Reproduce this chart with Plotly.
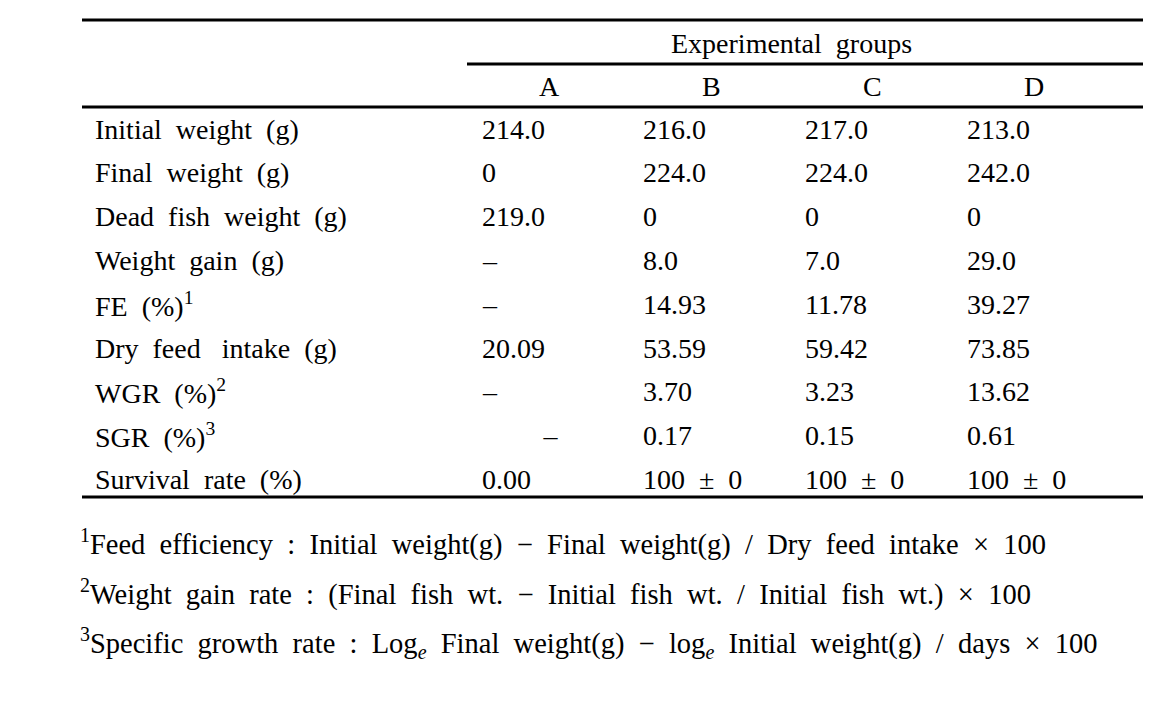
import plotly.graph_objects as go

# ---- data ----
group_title = "Experimental  groups"
groups = ["A", "B", "C", "D"]
row_labels = [
    "Initial  weight  (g)",
    "Final  weight  (g)",
    "Dead  fish  weight  (g)",
    "Weight  gain  (g)",
    "FE  (%)<sup>1</sup>",
    "Dry  feed   intake  (g)",
    "WGR  (%)<sup>2</sup>",
    "SGR  (%)<sup>3</sup>",
    "Survival  rate  (%)",
]
col_A = ["214.0", "0", "219.0", "–", "–", "20.09", "–", "\u2003\u2003\u2009–", "0.00"]
col_B = ["216.0", "224.0", "0", "8.0", "14.93", "53.59", "3.70", "0.17", "100  ±  0"]
col_C = ["217.0", "224.0", "0", "7.0", "11.78", "59.42", "3.23", "0.15", "100  ±  0"]
col_D = ["213.0", "242.0", "0", "29.0", "39.27", "73.85", "13.62", "0.61", "100  ±  0"]
footnotes = [
    "<sup>1</sup>Feed  efficiency  :  Initial  weight(g)  −  Final  weight(g)  /  Dry  feed  intake  ×  100",
    "<sup>2</sup>Weight  gain  rate  :  (Final  fish  wt.  −  Initial  fish  wt.  /  Initial  fish  wt.)  ×  100",
    "<sup>3</sup>Specific  growth  rate  :  Log<sub><i>e</i></sub>  Final  weight(g)  −  log<sub><i>e</i></sub>  Initial  weight(g)  /  days  ×  100",
]

# ---- layout constants (pixel geometry) ----
W, H = 1152, 709
OFF = 8  # page body margin offset
FONT = "Liberation Serif"
FS = 28
FS_FOOT = 28.5
label_x = 93
col_left = [480, 641, 803, 965]
col_center = [549, 711, 872, 1034]
row_y0, row_dy = 129, 43.8
table_left, table_right = 82, 1143
group_line_left = 467
y_top, y_group, y_head, y_bottom = 20, 64, 107, 497
foot_x, foot_y = 78, [542, 592, 643]

fig = go.Figure()
ann = []

def txt(x, y, s, anchor="left", size=FS):
    ann.append(dict(x=x, y=y, xref="x", yref="y", text=s, showarrow=False,
                    xanchor=anchor, yanchor="middle",
                    font=dict(family=FONT, size=size, color="#000")))

txt(791, 43, group_title, "center")
for g, cx in zip(groups, col_center):
    txt(cx, 86, g, "center")

cols = [col_A, col_B, col_C, col_D]
for i, lab in enumerate(row_labels):
    y = row_y0 + i * row_dy
    txt(label_x, y, lab)
    for c, xl in zip(cols, col_left):
        txt(xl, y, c[i])

for f, fy in zip(footnotes, foot_y):
    txt(foot_x, fy, f, size=FS_FOOT)

shapes = []
def hline(x0, x1, y):
    shapes.append(dict(type="line", xref="x", yref="y", x0=x0, x1=x1, y0=y, y1=y,
                       line=dict(color="#000", width=3)))

hline(table_left, table_right, y_top)
hline(group_line_left, table_right, y_group)
hline(table_left, table_right, y_head)
hline(table_left, table_right, y_bottom)

fig.update_layout(
    width=W, height=H, margin=dict(l=0, r=0, t=0, b=0),
    paper_bgcolor="white", plot_bgcolor="white",
    xaxis=dict(range=[OFF, W + OFF], visible=False, fixedrange=True),
    yaxis=dict(range=[H + OFF, OFF], visible=False, fixedrange=True),
    annotations=ann, shapes=shapes, showlegend=False,
)
fig.write_html("out.html")
